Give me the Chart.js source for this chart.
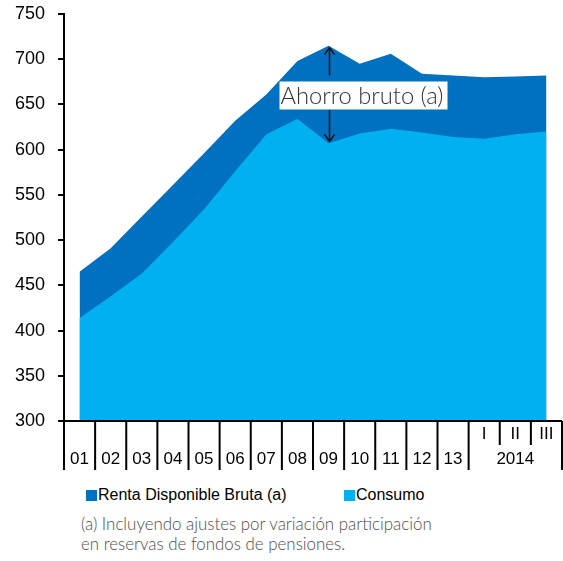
<!DOCTYPE html>
<html>
<head>
<meta charset="utf-8">
<script src="https://cdn.jsdelivr.net/npm/chart.js@4.4.1/dist/chart.umd.min.js"></script>
<style>
  body { margin: 0; background: #fff; }
  .wrap { position: relative; width: 563px; height: 561px; }
  .chart-box { position: absolute; left: 0; top: 0; width: 563px; height: 480px; }
  .legend { position: absolute; top: 486px; font: 16px "Liberation Sans", Arial, sans-serif; color: #000; white-space: nowrap; }
  .legend i { display: inline-block; width: 11px; height: 11px; margin-right: 1px; vertical-align: -1px; }
  .note { position: absolute; left: 81px; top: 514px; font: 300 16.9px Lato, "Open Sans", sans-serif; color: #4d4d4d; line-height: 20px; }
</style>
</head>
<body>
<div class="wrap">
  <div class="chart-box"><canvas id="chart"></canvas></div>
  <div class="legend" style="left:86px"><i style="background:#0070C0"></i>Renta Disponible Bruta (a)</div>
  <div class="legend" style="left:344px"><i style="background:#00B0F0"></i>Consumo</div>
  <div class="note">(a) Incluyendo ajustes por variación participación<br>en reservas de fondos de pensiones.</div>
</div>
<script>
const categories = ['01','02','03','04','05','06','07','08','09','10','11','12','13','I','II','III'];
const rentaDisponible = [465, 491, 526, 561, 596, 632, 661, 698, 715, 695, 706, 684, 682, 680, 681, 682];
const consumo = [414, 438, 463, 498, 534, 576, 617, 634, 607, 618, 623, 619, 614, 612, 617, 620];
const yMin = 300, yMax = 750, yStep = 50;
const yearLabel = '2014';
const yearStart = 13;
const noteLabel = 'Ahorro bruto (a)';
const noteAt = '09';

const dark = '#0070C0';
const light = '#00B0F0';

// bottom axis: separators, labels and the 2014 group
const xAxisPlugin = {
  id: 'xAxisPlugin',
  afterDraw(chart) {
    const { ctx, chartArea: { left, right, bottom } } = chart;
    const n = categories.length;
    const w = (right - left) / n;
    ctx.save();
    ctx.strokeStyle = '#000';
    ctx.lineWidth = 2;
    ctx.beginPath();
    ctx.moveTo(left - 6, bottom);
    ctx.lineTo(right, bottom);
    for (let i = 0; i <= n; i++) {
      const bx = left + i * w;
      const len = (i > yearStart && i < n) ? 24 : 49;
      ctx.moveTo(bx, bottom);
      ctx.lineTo(bx, bottom + len);
    }
    ctx.stroke();

    ctx.fillStyle = '#000';
    ctx.font = '17px "Liberation Sans", Arial, sans-serif';
    ctx.textAlign = 'center';
    ctx.textBaseline = 'middle';
    categories.forEach((c, i) => {
      const cx = left + (i + 0.5) * w;
      ctx.fillText(c, cx, i < yearStart ? bottom + 38 : bottom + 13);
    });
    ctx.fillText(yearLabel, left + (yearStart + (n - yearStart) / 2) * w, bottom + 38);
    ctx.restore();
  }
};

// "Ahorro bruto" label with arrows between the two series
const savingsPlugin = {
  id: 'savingsPlugin',
  afterDatasetsDraw(chart) {
    const { ctx, scales: { x, y } } = chart;
    const idx = categories.indexOf(noteAt);
    const ax = Math.round(x.getPixelForValue(idx)) + 0.5;
    const yTop = y.getPixelForValue(rentaDisponible[idx]) + 2;
    const yBot = y.getPixelForValue(consumo[idx]) - 2;
    const boxW = 168, boxH = 28;
    const boxX = ax - 50;
    const boxY = (yTop + yBot) / 2 - boxH / 2 + 1;

    ctx.save();
    ctx.strokeStyle = '#111';
    ctx.lineWidth = 1.5;
    ctx.beginPath();
    ctx.moveTo(ax, yTop);
    ctx.lineTo(ax, boxY - 6);
    ctx.moveTo(ax - 5, yTop + 7);
    ctx.lineTo(ax, yTop);
    ctx.lineTo(ax + 5, yTop + 7);
    ctx.moveTo(ax, boxY + boxH);
    ctx.lineTo(ax, yBot);
    ctx.moveTo(ax - 5, yBot - 7);
    ctx.lineTo(ax, yBot);
    ctx.lineTo(ax + 5, yBot - 7);
    ctx.stroke();

    ctx.fillStyle = '#fff';
    ctx.fillRect(boxX, boxY, boxW, boxH);
    ctx.fillStyle = '#333';
    ctx.font = '300 24px Lato, "Open Sans", sans-serif';
    ctx.textAlign = 'left';
    ctx.textBaseline = 'middle';
    ctx.fillText(noteLabel, boxX + 1, boxY + boxH / 2 + 1, 163);
    ctx.restore();
  }
};

new Chart(document.getElementById('chart'), {
  type: 'line',
  data: {
    labels: categories,
    datasets: [
      {
        label: 'Consumo',
        data: consumo,
        borderWidth: 0,
        borderColor: light,
        backgroundColor: light,
        fill: 'start',
        pointRadius: 0,
        tension: 0
      },
      {
        label: 'Renta Disponible Bruta (a)',
        data: rentaDisponible,
        borderWidth: 0,
        borderColor: dark,
        backgroundColor: dark,
        fill: 'start',
        pointRadius: 0,
        tension: 0
      }
    ]
  },
  options: {
    responsive: true,
    maintainAspectRatio: false,
    animation: false,
    layout: { padding: { top: 14, right: 1, bottom: 59, left: 0 } },
    plugins: { legend: { display: false }, tooltip: { enabled: false } },
    scales: {
      x: { display: false, offset: true },
      y: {
        min: yMin,
        max: yMax,
        afterFit(scale) {
          scale.width = 64;
          scale.paddingTop = 0;
          scale.paddingBottom = 0;
        },
        border: { color: '#000', width: 2 },
        grid: { drawOnChartArea: false, tickLength: 6, color: '#000', lineWidth: 2 },
        ticks: { stepSize: yStep, padding: 13, color: '#000', font: { family: '"Liberation Sans", Arial, sans-serif', size: 18 } }
      }
    }
  },
  plugins: [xAxisPlugin, savingsPlugin]
});
</script>
</body>
</html>
